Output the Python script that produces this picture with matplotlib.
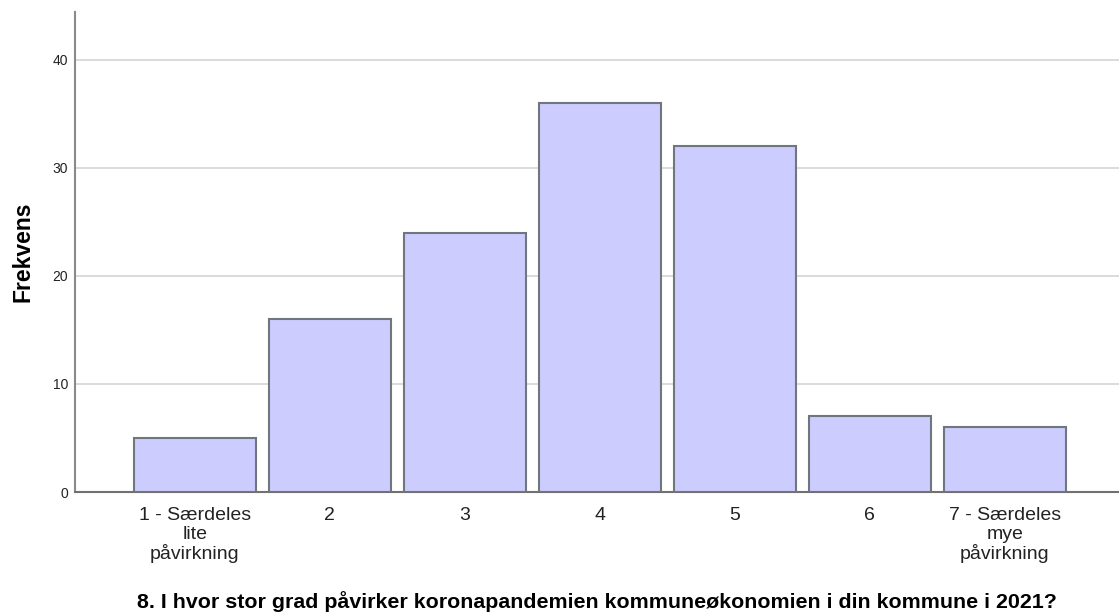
import matplotlib
matplotlib.use("Agg")
import matplotlib.pyplot as plt

# data
categories = ['1 - Særdeles\nlite\npåvirkning', '2', '3', '4', '5', '6',
              '7 - Særdeles\nmye\npåvirkning']
frequencies = [5, 16, 24, 36, 32, 7, 6]
y_ticks = [0, 10, 20, 30, 40]

plt.rcParams['font.family'] = ['Liberation Sans', 'DejaVu Sans']

fig = plt.figure(figsize=(11.19, 6.13), dpi=100)
ax = fig.add_axes([75 / 1119, 121 / 613, 1 - 75 / 1119, 480 / 613])

x = list(range(1, len(categories) + 1))
ax.bar(x, frequencies, width=0.904, color='#CCCCFF', edgecolor='#6F767E',
       linewidth=1.5, zorder=3)

ax.set_xlim(0.111, 7.847)
ax.set_ylim(0, 44.44)
ax.set_yticks(y_ticks)
ax.set_xticks(x)
ax.set_xticklabels(categories, fontsize=14, color='#222222', linespacing=1.1)
ax.tick_params(axis='x', length=0, pad=11)
ax.tick_params(axis='y', length=0, pad=5, labelsize=10, labelcolor='#222222')

ax.grid(axis='y', color='#D4D4D4', linewidth=1.2, zorder=0)
ax.set_axisbelow(True)

for side in ['top', 'right']:
    ax.spines[side].set_visible(False)
ax.spines['left'].set_color('#8A8A8A')
ax.spines['left'].set_linewidth(1.5)
ax.spines['bottom'].set_color('#707070')
ax.spines['bottom'].set_linewidth(1.5)

ax.set_ylabel('Frekvens', fontsize=16.5, fontweight='bold', labelpad=13)
ax.set_xlabel('8. I hvor stor grad påvirker koronapandemien kommuneøkonomien i din kommune i 2021?',
              fontsize=15.4, fontweight='bold', labelpad=20)

plt.savefig('out.png', dpi=100)
plt.close()
